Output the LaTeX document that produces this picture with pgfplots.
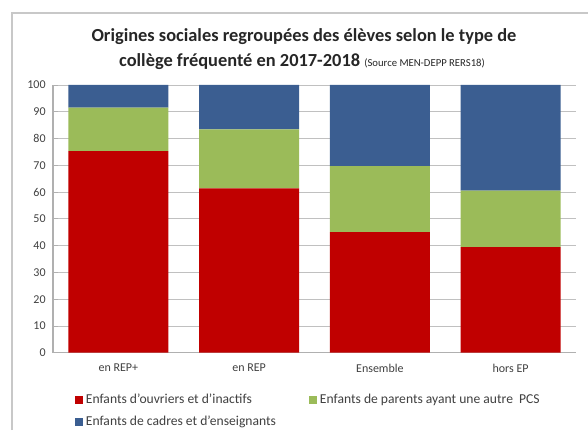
\documentclass[border=0pt]{standalone}
\usepackage{fontspec}
\setmainfont{Carlito}
\usepackage{pgfplots}
\pgfplotsset{compat=1.18}

\definecolor{rouge}{HTML}{C00000}
\definecolor{vert}{HTML}{9BBB59}
\definecolor{bleu}{HTML}{3B5E91}
\definecolor{grille}{HTML}{B0B0B0}
\definecolor{texte}{HTML}{404040}

\begin{document}
\begin{tikzpicture}
\path[use as bounding box] (0,0) rectangle (441pt,322.5pt);
% cadre du graphique
\draw[grille!70, line width=1.2pt] (9pt,0) -- (9pt,312.75pt) -- (441pt,312.75pt);

\node[font=\bfseries\fontsize{13.8}{15}\selectfont, text=black!85] at (228pt,294.75pt)
  {Origines sociales regroupées des élèves selon le type de};
\node[font=\bfseries\fontsize{13.8}{15}\selectfont, text=black!85] at (226.5pt,276pt)
  {collège fréquenté en 2017-2018 {\mdseries\fontsize{8}{9}\selectfont(Source MEN-DEPP RERS18)}};

\begin{axis}[
  at={(39.75pt,57.975pt)}, anchor=south west,
  scale only axis, width=392.25pt, height=200.8pt,
  ybar stacked, bar width=75pt,
  xmin=-0.5, xmax=3.5, ymin=0, ymax=100,
  xtick={0,1,2,3},
  xticklabels={en REP+, en REP, Ensemble, hors EP},
  ytick={0,10,...,100},
  axis x line*=bottom, axis y line*=left,
  axis line style={grille, line width=0.8pt},
  ymajorgrids, grid style={grille!80, line width=0.6pt},
  major tick length=4pt,
  tick style={grille, line width=0.6pt},
  xtick style={draw=none},
  yticklabel style={font=\fontsize{9}{10}\selectfont, text=texte, xshift=-2pt},
  xticklabel style={font=\fontsize{9}{10}\selectfont, text=texte, yshift=-5pt},
  /pgf/number format/assume math mode=true,
  separate axis lines,
  enlargelimits=false,
  legend columns=2,
  legend cell align=left,
  legend style={
    at={(0.042,-0.143)}, anchor=north west, draw=none,
    inner sep=0pt,
    font=\fontsize{10.2}{11}\selectfont, text=texte,
    /tikz/every even column/.append style={column sep=23pt},
    row sep=4pt,
  },
  legend image code/.code={\fill[#1] (0pt,-3pt) rectangle (6pt,3pt);},
]
\addplot[fill=rouge, draw=none] coordinates {(0,75.3) (1,61.4) (2,45.0) (3,39.4)};
\addplot[fill=vert, draw=none] coordinates {(0,16.2) (1,22.0) (2,24.7) (3,21.1)};
\addplot[fill=bleu, draw=none] coordinates {(0,8.5) (1,16.6) (2,30.3) (3,39.5)};
\legend{Enfants d'ouvriers et d'inactifs, Enfants de parents ayant une autre\ \ PCS, Enfants de cadres et d'enseignants}
\end{axis}
\end{tikzpicture}
\end{document}
